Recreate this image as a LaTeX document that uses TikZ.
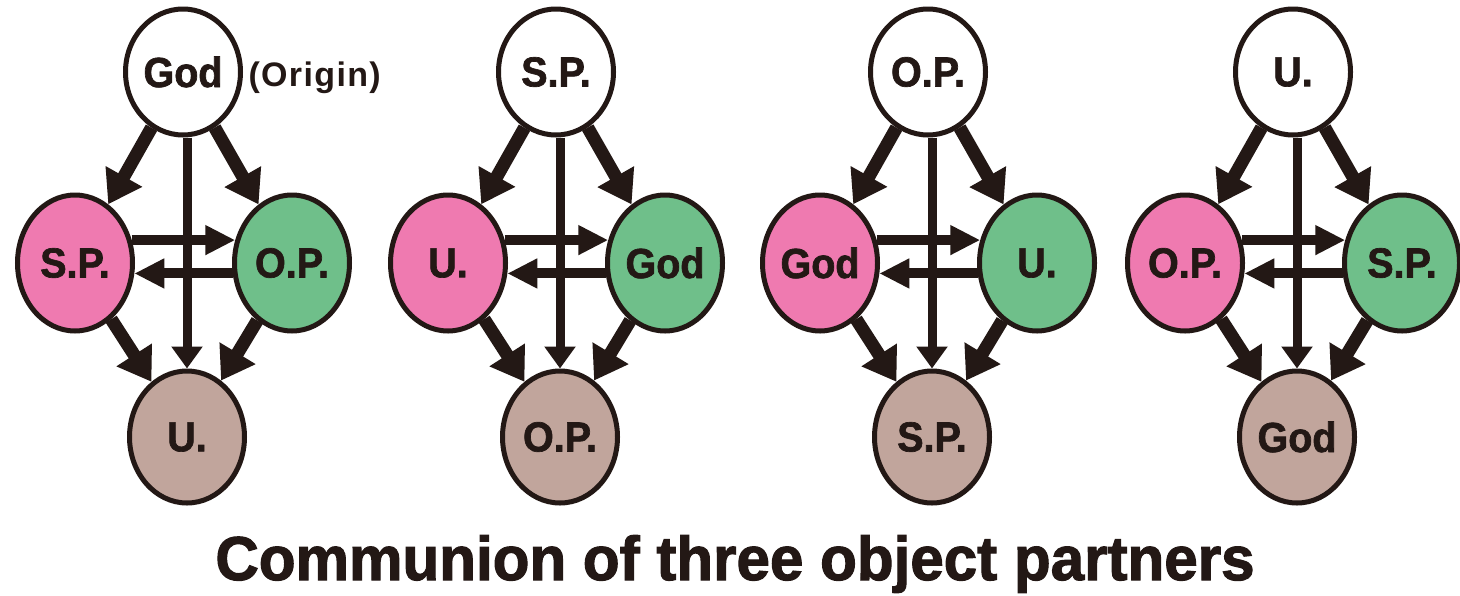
\documentclass[tikz,border=0pt]{standalone}
\usepackage{fontspec}
\setmainfont{Liberation Sans}
\newfontfamily\heavyfont[FakeBold = 1.6, FakeStretch = 0.94]{Liberation Sans Bold}
\newfontfamily\titlefont[FakeBold = 1.8, FakeStretch = 0.97]{Liberation Sans Bold}
\usetikzlibrary{arrows.meta,shapes.geometric,positioning}

\definecolor{ink}{HTML}{231815}
\definecolor{spink}{HTML}{EF7AB0}
\definecolor{ogreen}{HTML}{6FBF8A}
\definecolor{utaupe}{HTML}{C1A59C}

\tikzset{
    partner/.style = {ellipse, draw = ink, line width = 5pt, inner sep = 0,
        minimum width = 115pt, minimum height = 132pt, text = ink,
        font = \heavyfont\fontsize{42}{42}\selectfont},
    diagarrow/.style = {draw = ink, line width = 13pt,
        -{Triangle[length = 32pt, width = 40pt]}},
    midarrow/.style = {draw = ink, line width = 9pt,
        -{Triangle[length = 22pt, width = 30pt]}},
    sidearrow/.style = {draw = ink, line width = 10pt,
        -{Triangle[length = 30pt, width = 28pt]}},
    note/.style = {text = ink, font = \bfseries\fontsize{34}{34}\selectfont\addfontfeature{LetterSpace = 4}},
    heading/.style = {text = ink, inner sep = 0, font = \titlefont\fontsize{62}{62}\selectfont}
}

\begin{document}
\begin{tikzpicture}[
        x = 1pt,
        y = -1pt
    ]
    \fill[white] (0, 0) rectangle (1460, 595);
    \useasboundingbox (0, 0) rectangle (1460, 595);

    % four rotations of the same diamond
    \foreach \dx/\a/\b/\c/\d [count = \i] in {0/God/S.P./O.P./U., 373/S.P./U./God/O.P., 745/O.P./God/U./S.P., 1110/U./O.P./S.P./God} {
        \begin{scope}[shift = {(\dx, 0)}]
            \node[partner, fill = white, minimum height = 126pt] (top\i) at (183, 72) {\a};
            \node[partner, fill = spink, minimum height = 136pt] (left\i) at (75, 263) {\b};
            \node[partner, fill = ogreen, minimum height = 136pt] (right\i) at (292, 263) {\c};
            \node[partner, fill = utaupe] (bot\i) at (187, 437) {\d};

            \draw[diagarrow] (top\i) -- (left\i);
            \draw[diagarrow] (top\i) -- (right\i);
            \draw[diagarrow] (left\i) -- (bot\i);
            \draw[diagarrow] (right\i) -- (bot\i);
            \draw[sidearrow] (left\i.22) -- (right\i.158);
            \draw[sidearrow] (right\i.190) -- (left\i.350);
            \draw[midarrow] (top\i.south -| bot\i.north) -- (bot\i.north);
        \end{scope}
    }

    \node[note, right = 2pt of top1, yshift = -6pt] (origin) {(Origin)};
    \node[heading, anchor = base] (caption) at (735, 580) {Communion of three object partners};
\end{tikzpicture}
\end{document}
